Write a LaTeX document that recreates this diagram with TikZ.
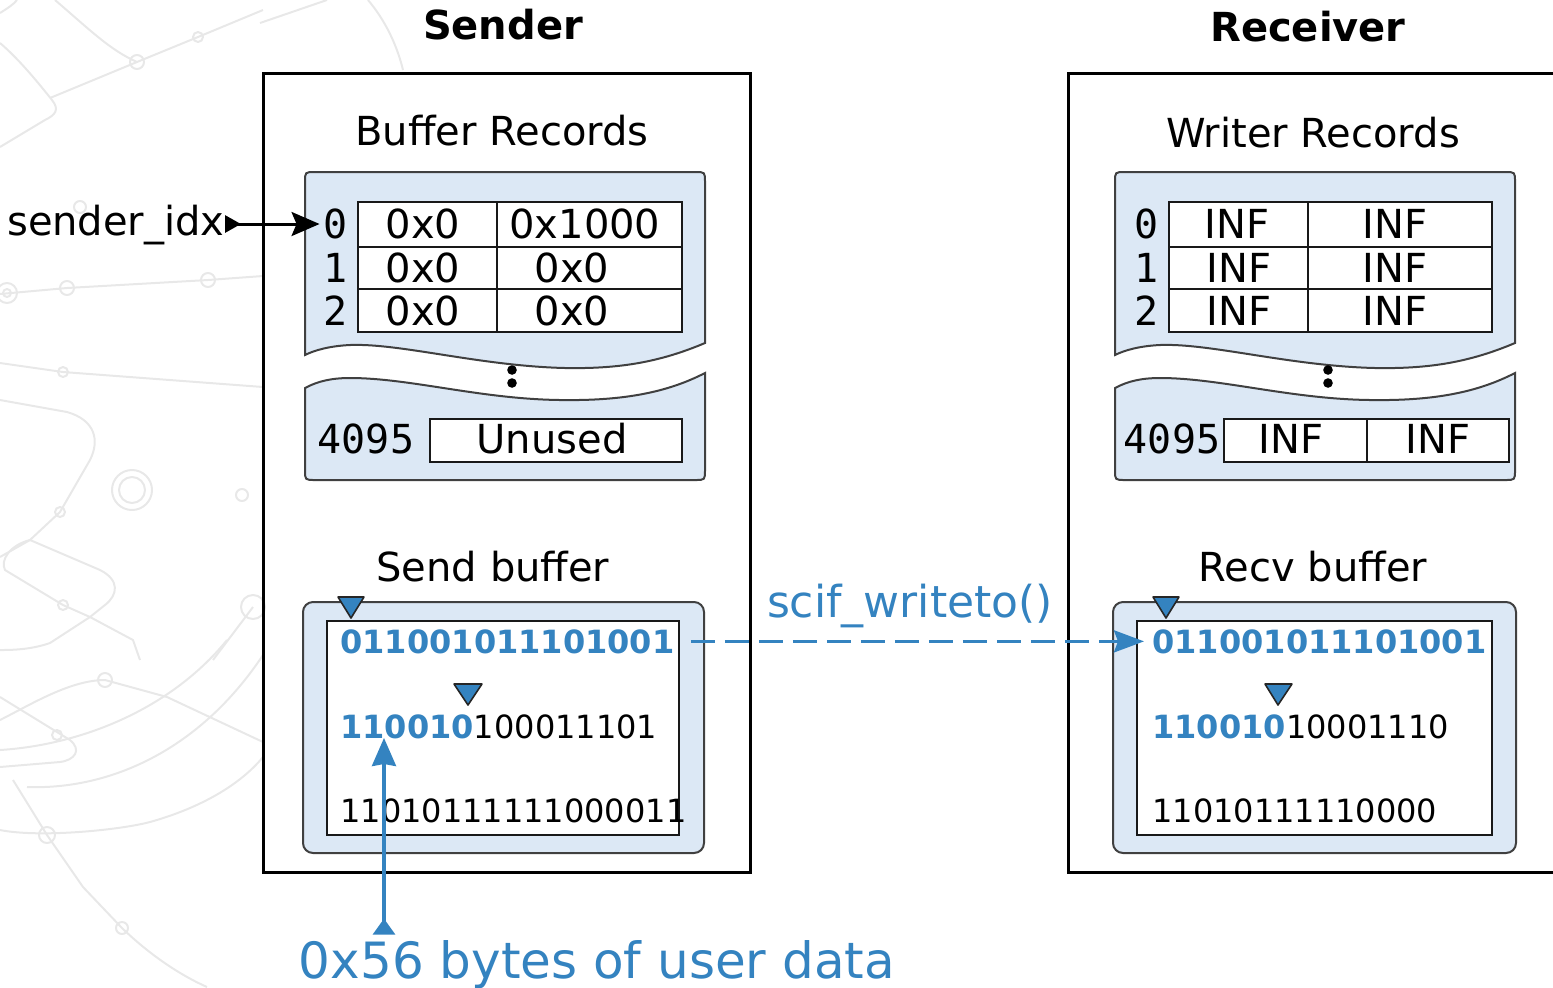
\documentclass[tikz,border=0pt]{standalone}
\usepackage{fontspec}
\setmainfont{DejaVu Sans}
\newfontfamily\digitmono{DejaVu Sans Mono}
\usetikzlibrary{arrows.meta}
\definecolor{hlblue}{RGB}{52,131,192}
\definecolor{panelfill}{RGB}{220,232,245}
\definecolor{decogray}{RGB}{232,232,232}
\newcommand{\fsz}[1]{\fontsize{#1}{#1}\selectfont}

\begin{document}
\begin{tikzpicture}[x=0.5pt,y=-0.5pt,
  box/.style={draw=black,line width=1.5pt},
  panel/.style={draw=black!75,fill=panelfill,line width=1pt},
  cell/.style={draw=black!90,line width=1pt},
  txt/.style={inner sep=0pt,font=\fsz{20}},
  idx/.style={inner sep=0pt,font=\digitmono\fsz{20}},
  bits/.style={inner sep=0pt,anchor=base west,font=\fsz{16}},
  boldbits/.style={bits,text=hlblue,font=\bfseries\fsz{16}},
  marker/.style={fill=hlblue,draw=black!85,line width=0.8pt,line join=round},
  deco/.style={draw=decogray,line width=1pt},
  dot/.style={fill=black}
]
\useasboundingbox (0,0) rectangle (1553,987);

% faint background ornament
\begin{scope}[deco]
  \draw (55,0) .. controls (90,30) and (110,50) .. (137,62);
  \draw (0,13) .. controls (8,8) and (14,4) .. (17,0);
  \draw (50,98) -- (137,62) -- (198,37) -- (263,10);
  \draw (0,43) .. controls (20,60) and (40,85) .. (52,100) .. controls (60,110) and (55,115) .. (45,120) -- (0,147);
  \draw (137,62) circle[radius=3.5pt];
  \draw (198,37) circle[radius=2.5pt];
  \draw (80,207) circle[radius=3pt];
  \draw (0,294) -- (67,288) -- (208,280) -- (263,276);
  \draw (7,293) circle[radius=5pt] (7,293) circle[radius=2pt];
  \draw (67,288) circle[radius=3.5pt];
  \draw (208,280) circle[radius=3.5pt];
  \draw (0,363) -- (63,372) -- (263,387);
  \draw (63,372) circle[radius=2.5pt];
  \draw (0,400) -- (67,412) .. controls (95,420) and (100,440) .. (90,460) -- (60,512) -- (30,540) -- (0,557);
  \draw (60,512) circle[radius=2.5pt];
  \draw (30,540) .. controls (10,545) and (0,560) .. (5,570) -- (63,605) -- (90,617) -- (133,640) -- (140,660);
  \draw (30,540) -- (100,570) .. controls (120,580) and (118,595) .. (105,605) -- (90,617) -- (50,643) .. controls (30,650) and (10,650) .. (0,650);
  \draw (63,605) circle[radius=2.5pt];
  \draw (132,490) circle[radius=10pt] (132,490) circle[radius=6.5pt];
  \draw (242,495) circle[radius=3pt];
  \draw (253,607) circle[radius=6pt];
  \draw (253,607) -- (213,660);
  \draw (0,720) .. controls (30,705) and (70,680) .. (105,680) -- (167,697) -- (263,742);
  \draw (105,680) circle[radius=3.5pt];
  \draw (0,750) .. controls (80,745) and (170,710) .. (227,640);
  \draw (27,787) .. controls (110,790) and (200,750) .. (263,655);
  \draw (0,830) .. controls (40,838) and (120,830) .. (150,822) .. controls (200,808) and (240,785) .. (263,757);
  \draw (0,697) -- (70,740) .. controls (82,750) and (75,760) .. (60,762) -- (0,767);
  \draw (57,735) circle[radius=2.5pt];
  \draw (13,780) -- (47,835) -- (83,887) -- (122,928) .. controls (150,955) and (180,975) .. (207,987);
  \draw (47,835) circle[radius=4pt];
  \draw (122,928) circle[radius=3pt];
  \draw (368,0) .. controls (385,20) and (397,45) .. (403,70);
  \draw (260,23) -- (327,0);
\end{scope}

% outer frames and titles
\draw[box] (263,73) rectangle (750,872);
\draw[box] (1068,73) rectangle (1570,872);
\node[txt,font=\bfseries\fsz{20}] (sendertitle) at (503,25) {Sender};
\node[txt,font=\bfseries\fsz{20}] (receivertitle) at (1308,27) {Receiver};
\node[txt] (bufrec) at (502,131) {Buffer Records};
\node[txt] (wrrec) at (1313,133) {Writer Records};

% record panels (upper and lower halves, torn)
\foreach \dx in {0,810}{
  \begin{scope}[shift={(\dx,0)}]
    \path[panel] (305,355) -- (305,182) .. controls (305,172) .. (315,172) -- (695,172)
      .. controls (705,172) .. (705,182) -- (705,343)
      .. controls (660,362) and (620,369) .. (565,368)
      .. controls (480,366) and (400,343) .. (350,345)
      .. controls (330,346) and (315,350) .. (305,355) -- cycle;
    \path[panel] (305,388) .. controls (318,381) and (332,378) .. (350,378)
      .. controls (410,378) and (480,399) .. (560,400)
      .. controls (625,401) and (668,392) .. (705,373) -- (705,470)
      .. controls (705,480) .. (695,480) -- (315,480)
      .. controls (305,480) .. (305,470) -- cycle;
  \end{scope}
}
\fill[dot] (512,370) circle[radius=2.4pt] (512,383) circle[radius=2.4pt];
\fill[dot] (1328,370) circle[radius=2.4pt] (1328,383) circle[radius=2.4pt];

% sender record table
\fill[white] (358,202) rectangle (682,332);
\draw[cell] (358,202) rectangle (682,332);
\draw[cell] (497,202) -- (497,332);
\draw[cell,line width=1.4pt] (358,247) -- (682,247) (358,289) -- (682,289);
\node[idx] (si0) at (336,224) {0};
\node[idx] (si1) at (336,268) {1};
\node[idx] (si2) at (336,311) {2};
\node[txt] (s00) at (423,224) {0x0};
\node[txt] (s01) at (585,224) {0x1000};
\node[txt] (s10) at (423,268) {0x0};
\node[txt] (s11) at (572,268) {0x0};
\node[txt] (s20) at (423,311) {0x0};
\node[txt] (s21) at (572,311) {0x0};
\draw[cell,fill=white] (430,419) rectangle (682,462);
\node[idx] (si4095) at (366,439) {4095};
\node[txt] (sunused) at (552,439) {Unused};

% receiver record table
\fill[white] (1169,202) rectangle (1492,332);
\draw[cell] (1169,202) rectangle (1492,332);
\draw[cell] (1308,202) -- (1308,332);
\draw[cell,line width=1.4pt] (1169,247) -- (1492,247) (1169,289) -- (1492,289);
\node[idx] (ri0) at (1147,224) {0};
\node[idx] (ri1) at (1147,268) {1};
\node[idx] (ri2) at (1147,311) {2};
\node[txt] (r00) at (1237,224) {INF};
\node[txt] (r01) at (1395,224) {INF};
\node[txt] (r10) at (1239,268) {INF};
\node[txt] (r11) at (1395,268) {INF};
\node[txt] (r20) at (1239,311) {INF};
\node[txt] (r21) at (1395,311) {INF};
\draw[cell,fill=white] (1224,419) rectangle (1509,462);
\draw[cell] (1367,419) -- (1367,462);
\node[idx] (ri4095) at (1172,439) {4095};
\node[txt] (r40) at (1291,439) {INF};
\node[txt] (r41) at (1438,439) {INF};

% data buffers
\node[txt] (sendbuf) at (493,567) {Send buffer};
\node[txt] (recvbuf) at (1313,567) {Recv buffer};
\draw[panel,rounded corners=5pt] (303,602) rectangle (704,853);
\draw[cell,fill=white] (327,621) rectangle (679,835);
\draw[panel,rounded corners=5pt] (1113,602) rectangle (1516,853);
\draw[cell,fill=white] (1137,621) rectangle (1492,835);

\node[boldbits] (sb1) at (340,653) {011001011101001};
\node[bits] (sb2) at (340,738) {\textbf{\color{hlblue}110010}100011101};
\node[bits] (sb3) at (340,822) {11010111111000011};
\node[boldbits] (rb1) at (1152,653) {011001011101001};
\node[bits] (rb2) at (1152,738) {\textbf{\color{hlblue}110010}10001110};
\node[bits] (rb3) at (1152,822) {11010111110000};

% position markers
\draw[marker] (338,597) -- (364,597) -- (351,618) -- cycle;
\draw[marker] (454,684) -- (482,684) -- (468,705) -- cycle;
\draw[marker] (1153,597) -- (1179,597) -- (1166,618) -- cycle;
\draw[marker] (1265,684) -- (1292,684) -- (1278,705) -- cycle;

% connectors
\node[txt,anchor=base east] (sidx) at (225,235) {sender\_idx};
\draw[line width=1.5pt,{Triangle[reversed,length=8pt,width=8.5pt]}-{Stealth[length=14pt,width=12pt,inset=2.5pt]},shorten >=2pt]
  (sidx.east |- si0.west) -- (si0.west);

\node[txt,font=\fsz{22},text=hlblue,anchor=base] (scif) at (910,617) {scif\_writeto()};
\draw[hlblue,line width=1.6pt,dash pattern=on 12pt off 5pt,
  -{Stealth[length=15pt,width=11pt,inset=2pt]},shorten <=8pt,shorten >=4pt]
  (sb1.east) -- (rb1.west);

\node[txt,font=\fsz{25},text=hlblue,anchor=base] (udata) at (597,978) {0x56 bytes of user data};
\coordinate (udtip) at (384,738);
\draw[hlblue,line width=1.6pt,{Triangle[reversed,length=8pt,width=11pt]}-{Stealth[length=14pt,width=12pt,inset=1pt]},shorten <=2.5pt]
  (udtip |- udata.north) -- (udtip);
\end{tikzpicture}
\end{document}
